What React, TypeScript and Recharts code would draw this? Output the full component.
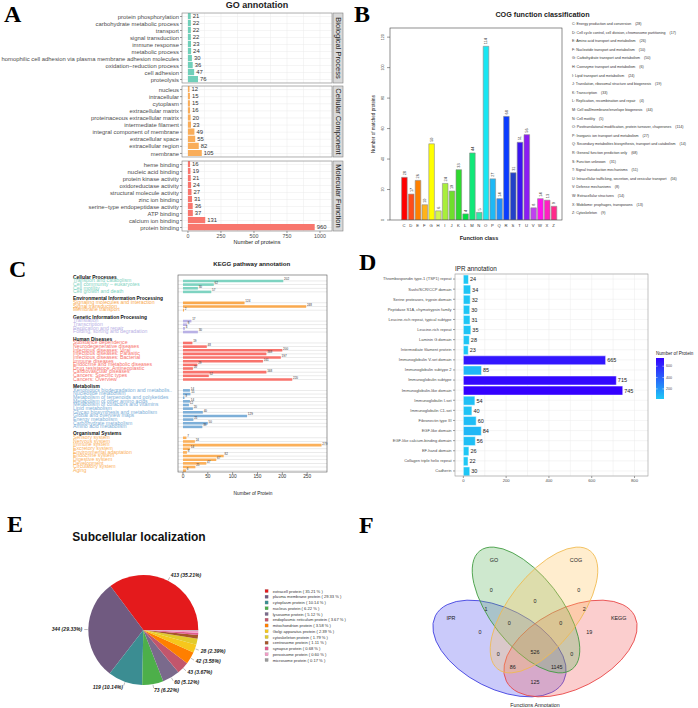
import React from 'react'
import {
  BarChart,
  Bar,
  XAxis,
  YAxis,
  CartesianGrid,
  LabelList,
  Cell,
  PieChart,
  Pie,
  ScatterChart,
  Scatter,
} from 'recharts'

const FONT = '"Liberation Sans", Arial, Helvetica, sans-serif'
const SERIF = '"Liberation Serif", "Times New Roman", serif'

// ---- A: GO annotation
const goBpTerms = [
  'protein phosphorylation',
  'carbohydrate metabolic process',
  'transport',
  'signal transduction',
  'immune response',
  'metabolic process',
  'homophilic cell adhesion via plasma membrane adhesion molecules',
  'oxidation\u2212reduction process',
  'cell adhesion',
  'proteolysis',
]
const goBpCounts = [21, 22, 22, 22, 23, 24, 30, 36, 47, 76]
const goCcTerms = [
  'nucleus',
  'intracellular',
  'cytoplasm',
  'extracellular matrix',
  'proteinaceous extracellular matrix',
  'intermediate filament',
  'integral component of membrane',
  'extracellular space',
  'extracellular region',
  'membrane',
]
const goCcCounts = [12, 15, 15, 16, 20, 23, 49, 55, 82, 105]
const goMfTerms = [
  'heme binding',
  'nucleic acid binding',
  'protein kinase activity',
  'oxidoreductase activity',
  'structural molecule activity',
  'zinc ion binding',
  'serine\u2212type endopeptidase activity',
  'ATP binding',
  'calcium ion binding',
  'protein binding',
]
const goMfCounts = [16, 19, 21, 24, 27, 31, 36, 37, 131, 960]
const goTicks = [0, 250, 500, 750, 1000]

// ---- B: COG
const cogCodes = ['C', 'D', 'E', 'F', 'G', 'H', 'I', 'J', 'K', 'L', 'M', 'N', 'O', 'P', 'Q', 'R', 'S', 'T', 'U', 'V', 'W', 'X', 'Z']
const cogNames = [
  'Energy production and conversion',
  'Cell cycle control, cell division, chromosome partitioning',
  'Amino acid transport and metabolism',
  'Nucleotide transport and metabolism',
  'Carbohydrate transport and metabolism',
  'Coenzyme transport and metabolism',
  'Lipid transport and metabolism',
  'Translation, ribosomal structure and biogenesis',
  'Transcription',
  'Replication, recombination and repair',
  'Cell wall/membrane/envelope biogenesis',
  'Cell motility',
  'Posttranslational modification, protein turnover, chaperones',
  'Inorganic ion transport and metabolism',
  'Secondary metabolites biosynthesis, transport and catabolism',
  'General function prediction only',
  'Function unknown',
  'Signal transduction mechanisms',
  'Intracellular trafficking, secretion, and vesicular transport',
  'Defense mechanisms',
  'Extracellular structures',
  'Mobilome: prophages, transposons',
  'Cytoskeleton',
]
const cogCounts = [28, 17, 26, 10, 50, 6, 24, 19, 33, 4, 44, 5, 114, 27, 14, 68, 31, 51, 56, 8, 14, 13, 9]
const cogTicks = [0, 20, 40, 60, 80, 100, 120]

// ---- C: KEGG
const keggGroupNames = [
  'Cellular Processes',
  'Environmental Information Processing',
  'Genetic Information Processing',
  'Human Diseases',
  'Metabolism',
  'Organismal Systems',
]
const keggCpTerms = ['Transport and catabolism', 'Cell community \u2013 eukaryotes', 'Cell motility', 'Cell growth and death']
const keggCpCounts = [202, 62, 30, 57]
const keggEipTerms = ['Signaling molecules and interaction', 'Signal transduction', 'Membrane transport']
const keggEipCounts = [124, 248, 2]
const keggGipTerms = ['Translation', 'Transcription', 'Replication and repair', 'Folding, sorting and degradation']
const keggGipCounts = [17, 8, 4, 30]
const keggHdTerms = [
  'Substance dependence',
  'Neurodegenerative diseases',
  'Infectious diseases: Viral',
  'Infectious diseases: Parasitic',
  'Infectious diseases: Bacterial',
  'Immune diseases',
  'Endocrine and metabolic diseases',
  'Drug resistance: Antineoplastic',
  'Cardiovascular diseases',
  'Cancers: Specific types',
  'Cancers: Overview',
]
const keggHdCounts = [19, 48, 200, 168, 197, 161, 29, 20, 168, 52, 220]
const keggMetTerms = [
  'Xenobiotics biodegradation and metabolis..',
  'Nucleotide metabolism',
  'Metabolism of terpenoids and polyketides',
  'Metabolism of other amino acids',
  'Metabolism of cofactors and vitamins',
  'Lipid metabolism',
  'Glycan biosynthesis and metabolism',
  'Global and overview maps',
  'Energy metabolism',
  'Carbohydrate metabolism',
  'Amino acid metabolism',
]
const keggMetCounts = [14, 15, 3, 14, 12, 20, 40, 129, 21, 50, 39]
const keggOsTerms = [
  'Sensory system',
  'Nervous system',
  'Immune system',
  'Excretory system',
  'Environmental adaptation',
  'Endocrine system',
  'Digestive system',
  'Development',
  'Circulatory system',
  'Aging',
]
const keggOsCounts = [7, 24, 279, 14, 8, 82, 67, 47, 25, 6]
const keggTicks = [0, 50, 100, 150, 200, 250]

// ---- D: IPR
const iprDomains = [
  'Thrombospondin type-1 (TSP1) repeat',
  'Sushi/SCR/CCP domain',
  'Serine proteases, trypsin domain',
  'Peptidase S1A, chymotrypsin family',
  'Leucine-rich repeat, typical subtype',
  'Leucine-rich repeat',
  'Laminin G domain',
  'Intermediate filament protein',
  'Immunoglobulin V-set domain',
  'Immunoglobulin subtype 2',
  'Immunoglobulin subtype',
  'Immunoglobulin-like domain',
  'Immunoglobulin I-set',
  'Immunoglobulin C1-set',
  'Fibronectin type III',
  'EGF-like domain',
  'EGF-like calcium-binding domain',
  'EF-hand domain',
  'Collagen triple helix repeat',
  'Cadherin',
]
const iprCounts = [24, 34, 32, 30, 31, 35, 28, 23, 665, 85, 715, 745, 54, 40, 60, 84, 56, 26, 22, 30]
const iprTicks = [0, 200, 400, 600, 800]
const iprLegendTicks = [200, 400, 600]

// ---- E: subcellular localization
const locNames = [
  'extracell protein',
  'plasma membrane protein',
  'cytoplasm protein',
  'nucleus protein',
  'lysosome protein',
  'endoplasmic reticulum protein',
  'mitochondrion protein',
  'Golgi apparatus protein',
  'cytoskeleton protein',
  'centrosome protein',
  'synapse protein',
  'peroxisome protein',
  'microsome protein',
]
const locCounts = [413, 344, 119, 73, 60, 43, 42, 28, 21, 13, 8, 7, 2]

// ---- F: Venn
const vennSetNames = ['IPR', 'KEGG', 'GO', 'COG']
const vennRegionNames = [
  'GO', 'COG', 'GO&COG', 'GO&IPR', 'COG&KEGG', 'IPR', 'KEGG', 'GO&COG&IPR',
  'GO&COG&KEGG', 'COG&IPR', 'GO&KEGG', 'ALL', 'COG&IPR&KEGG', 'GO&IPR&KEGG', 'IPR&KEGG',
]
const vennRegionCounts = [0, 0, 0, 1, 2, 0, 19, 0, 0, 0, 0, 526, 86, 1145, 125]

// ---------------------------------------------------------------- styles / layout
const goColors = ['#70CFB9', '#F9AD5A', '#F8766D']
const cogColors = [
  '#FF0000', '#FF4D1A', '#FF8000', '#FFB31A', '#FFFF00', '#D2F550', '#A8EE3A', '#6FDE2C',
  '#2FD92F', '#00E040', '#10E878', '#2EE8AA', '#19E6F2', '#1EB8F5', '#1E8CFF', '#0A3CFF',
  '#2340C8', '#3A14F0', '#8A1CF2', '#C040F0', '#FF10F0', '#FF20C0', '#FF2A8A',
]
const keggGroupColors = ['#7ED3C1', '#F9A94E', '#B9B1E5', '#F8736C', '#7DAFD8', '#FBB05A']
const locColors = [
  '#E41A1C', '#705A80', '#3B8D92', '#4DAF4A', '#7A6A8C', '#C2566C', '#FF7F00',
  '#F6C71C', '#E2CB2C', '#A65628', '#E05C8E', '#F29CC6', '#9A9A9A',
]
const vennStyle = [
  { fill: '#5050EE', stroke: '#3F3FE0' },
  { fill: '#F25C5C', stroke: '#E84646' },
  { fill: '#5DB35D', stroke: '#3E9A3E' },
  { fill: '#FFC55C', stroke: '#F0BA50' },
]
const vennEllipseLayout = [
  { x: 149.5, y: 138.5, rx: 72, ry: 40, rot: 27, lx: 101, ly: 107.7 },
  { x: 220.5, y: 138.5, rx: 72, ry: 40, rot: -27, lx: 268.7, ly: 107.7 },
  { x: 176, y: 100, rx: 75, ry: 35, rot: 52, lx: 144, ly: 50 },
  { x: 194, y: 100, rx: 75, ry: 35, rot: -52, lx: 226, ly: 50 },
]
const vennRegionLayout = [
  [141.3, 80], [228.7, 80], [185, 91], [136, 98.7], [234.3, 98.7], [130, 121.7], [239.3, 121.7],
  [159.3, 112.7], [210.7, 112.7], [148.3, 144], [221.7, 144], [185, 142], [162.7, 156.7],
  [206.7, 156.7], [185, 171.7],
]

const lin = (v: number, d0: number, d1: number, p0: number, p1: number) => p0 + ((v - d0) / (d1 - d0)) * (p1 - p0)

const catTick = (fontSize: number, fill: string) => (p: any) => (
  <text x={p.x} y={p.y} dy="0.35em" textAnchor="end" fontSize={fontSize} fill={fill} fontFamily={FONT}>
    {p.payload.value}
  </text>
)

// ---------------------------------------------------------------- A
const GO_DOMAIN: [number, number] = [-45, 1091]
const GO_LEFT = 182
const GO_RIGHT = 332
const goGridX = [0, 125, 250, 375, 500, 625, 750, 875, 1000].map((v) => lin(v, GO_DOMAIN[0], GO_DOMAIN[1], GO_LEFT, GO_RIGHT))
const goFacets = [
  { strip: 'Biological Process', terms: goBpTerms, counts: goBpCounts, top: 13, height: 70 },
  { strip: 'Cellular Component', terms: goCcTerms, counts: goCcCounts, top: 86, height: 71 },
  { strip: 'Molecular Function', terms: goMfTerms, counts: goMfCounts, top: 161, height: 70 },
]

function GoFacet({ terms, counts, color, top, height, showAxis }: any) {
  const data = terms.map((term: string, i: number) => ({ term, count: counts[i] }))
  const axisH = showAxis ? 14 : 0
  return (
    <div style={{ position: 'absolute', left: 0, top }}>
      <BarChart layout="vertical" width={350} height={height + axisH} data={data} margin={{ top: 0, right: 350 - GO_RIGHT, bottom: 0, left: 0 }}>
        <CartesianGrid stroke="#EBEBEB" strokeWidth={0.5} verticalPoints={goGridX} />
        <XAxis
          type="number"
          domain={GO_DOMAIN}
          allowDataOverflow
          ticks={goTicks}
          interval={0}
          hide={!showAxis}
          height={axisH}
          axisLine={false}
          tickSize={2}
          tickMargin={1}
          tickLine={{ stroke: '#333', strokeWidth: 0.5 }}
          tick={{ fontSize: 5.3, fill: '#4D4D4D' }}
        />
        <YAxis
          type="category"
          dataKey="term"
          width={GO_LEFT}
          interval={0}
          axisLine={false}
          tickSize={2}
          tickMargin={1}
          tickLine={{ stroke: '#333', strokeWidth: 0.5 }}
          tick={catTick(5.9, '#4D4D4D')}
        />
        <Bar dataKey="count" fill={color} barSize={6.2} isAnimationActive={false}>
          <LabelList dataKey="count" position="right" offset={2} fontSize={5.9} fill="#333" />
        </Bar>
      </BarChart>
    </div>
  )
}

// ---------------------------------------------------------------- B
const cogData = cogCodes.map((code, i) => ({ code, count: cogCounts[i] }))

const cogYTick = (p: any) => (
  <text x={p.x} y={p.y} transform={`rotate(-90 ${p.x} ${p.y})`} textAnchor="middle" fontSize={3.6} fill="#333" fontFamily={FONT}>
    {p.payload.value}
  </text>
)
const cogXTick = (p: any) => (
  <text x={p.x} y={p.y} dy="0.71em" textAnchor="middle" fontSize={4.2} fill="#333" fontFamily={FONT}>
    {p.payload.value}
  </text>
)
const cogValueLabel = (p: any) => {
  const cx = p.x + p.width / 2
  const y = p.y - 2
  return (
    <text x={cx} y={y} dy="0.35em" transform={`rotate(-90 ${cx} ${y})`} textAnchor="start" fontSize={3.8} fill="#333" fontFamily={FONT}>
      {p.value}
    </text>
  )
}

// ---------------------------------------------------------------- C
const keggTerms = [keggCpTerms, keggEipTerms, keggGipTerms, keggHdTerms, keggMetTerms, keggOsTerms]
const keggCounts = [keggCpCounts, keggEipCounts, keggGipCounts, keggHdCounts, keggMetCounts, keggOsCounts]
type KRow = { id: string; kind: string; label: string; count?: number; color: string }
const keggRows: KRow[] = []
keggGroupNames.forEach((g, gi) => {
  if (gi > 0) keggRows.push({ id: `gap${gi}`, kind: 'gap', label: '', color: 'none' })
  keggRows.push({ id: `hdr${gi}`, kind: 'header', label: g, color: '#111' })
  keggTerms[gi].forEach((t, j) =>
    keggRows.push({ id: `k${gi}_${j}`, kind: 'item', label: t, count: keggCounts[gi][j], color: keggGroupColors[gi] }),
  )
})
const keggRowById: Record<string, KRow> = Object.fromEntries(keggRows.map((r) => [r.id, r]))

const keggTick = (p: any) => {
  const row = keggRowById[p.payload.value]
  if (!row || row.kind === 'gap') return <g />
  const hdr = row.kind === 'header'
  return (
    <text x={73} y={p.y} dy="0.35em" textAnchor="start" fontSize={hdr ? 4.9 : 5.2} fontWeight={hdr ? 700 : 400} fill={row.color} fontFamily={FONT}>
      {row.label}
    </text>
  )
}
const keggTrack = (p: any) => {
  if (p.payload && p.payload.kind !== 'item') return <g />
  return <rect x={p.x} y={p.y + p.height / 2 - 0.35} width={p.width} height={0.7} fill="#E2E2E2" />
}
const keggValueLabel = (p: any) => {
  if (p.value == null) return null
  return (
    <text x={p.x + p.width + 0.8} y={p.y + p.height / 2 - 0.6} fontSize={3} fill="#333" fontFamily={FONT}>
      {p.value}
    </text>
  )
}

// ---------------------------------------------------------------- D
const IPR_DOMAIN: [number, number] = [-39, 863]
const IPR_LEFT = 105
const IPR_RIGHT = 298
const iprGridX = [0, 100, 200, 300, 400, 500, 600, 700, 800].map((v) => lin(v, IPR_DOMAIN[0], IPR_DOMAIN[1], IPR_LEFT, IPR_RIGHT))
const iprMin = Math.min(...iprCounts)
const iprMax = Math.max(...iprCounts)
const IPR_LOW = [30, 200, 245]
const IPR_HIGH = [52, 0, 255]
const iprColor = (v: number) => {
  const t = (v - iprMin) / (iprMax - iprMin)
  const c = IPR_LOW.map((l, k) => Math.round(l + (IPR_HIGH[k] - l) * t))
  return `rgb(${c.join(',')})`
}
const iprData = iprDomains.map((domain, i) => ({ domain, count: iprCounts[i] }))

// ---------------------------------------------------------------- E
const locTotal = locCounts.reduce((a, b) => a + b, 0)
const locPct = locCounts.map((c) => ((c / locTotal) * 100).toFixed(2))
const locData = locNames.map((name, i) => ({ name, count: locCounts[i] }))
const PIE_LABELLED = 8

const pieLabel = (p: any) => {
  if (p.index >= PIE_LABELLED) return <g />
  const rad = (-p.midAngle * Math.PI) / 180
  const c = Math.cos(rad)
  const s = Math.sin(rad)
  const r = p.outerRadius
  return (
    <g>
      <line x1={p.cx + (r + 0.5) * c} y1={p.cy + (r + 0.5) * s} x2={p.cx + (r + 4) * c} y2={p.cy + (r + 4) * s} stroke="#555" strokeWidth={0.4} />
      <text
        x={p.cx + (r + 6) * c}
        y={p.cy + (r + 6) * s}
        dy="0.35em"
        textAnchor={c >= 0 ? 'start' : 'end'}
        fontSize={5.1}
        fontStyle="italic"
        fontWeight={700}
        fill="#222"
        fontFamily={FONT}
      >
        {`${locCounts[p.index]} (${locPct[p.index]}%)`}
      </text>
    </g>
  )
}

// ---------------------------------------------------------------- F
const vennEllipses = vennSetNames.map((name, i) => ({ name, ...vennEllipseLayout[i], ...vennStyle[i] }))
const vennRegions = vennRegionNames.map((name, i) => ({ name, count: vennRegionCounts[i], x: vennRegionLayout[i][0], y: vennRegionLayout[i][1] }))
const vennLabels = vennEllipses.map((e) => ({ name: e.name, x: e.lx, y: e.ly }))

const ellipseShape = (p: any) => (
  <ellipse
    cx={p.cx}
    cy={p.cy}
    rx={p.payload.rx}
    ry={p.payload.ry}
    transform={`rotate(${p.payload.rot} ${p.cx} ${p.cy})`}
    fill={p.payload.fill}
    fillOpacity={0.3}
    stroke={p.payload.stroke}
    strokeWidth={0.8}
  />
)
const vennText = (key: string) => (p: any) => (
  <text x={p.cx} y={p.cy} dy="0.35em" textAnchor="middle" fontSize={5.4} fill="#222" fontFamily={FONT}>
    {p.payload[key]}
  </text>
)

// ---------------------------------------------------------------- overlay (frames, titles, legends)
function Overlay() {
  const t = (x: number, y: number, s: string, size: number, extra: any = {}) => (
    <text x={x} y={y} fontSize={size} dominantBaseline="central" textAnchor="middle" fill="#222" fontFamily={FONT} style={{ whiteSpace: 'pre' }} {...extra}>
      {s}
    </text>
  )
  const letter = (x: number, y: number, s: string) => (
    <text x={x} y={y} fontSize={24} fontWeight={700} fontFamily={SERIF} fill="#000">
      {s}
    </text>
  )
  const cbTop = 358
  const cbBottom = 399
  return (
    <svg width={698} height={708} style={{ position: 'absolute', left: 0, top: 0, pointerEvents: 'none' }}>
      <defs>
        <linearGradient id="iprGrad" x1="0" y1="1" x2="0" y2="0">
          <stop offset="0%" stopColor={iprColor(iprMin)} />
          <stop offset="100%" stopColor={iprColor(iprMax)} />
        </linearGradient>
        {goFacets.map((f, i) => (
          <clipPath key={i} id={`strip${i}`}>
            <rect x={333} y={f.top} width={10} height={f.height} />
          </clipPath>
        ))}
      </defs>

      {letter(4, 22, 'A')}
      {letter(354, 22, 'B')}
      {letter(9, 277, 'C')}
      {letter(359, 270, 'D')}
      {letter(7, 532, 'E')}
      {letter(359, 533, 'F')}

      {/* A */}
      {t(257, 5, 'GO annotation', 9, { fontWeight: 700 })}
      {goFacets.map((f, i) => (
        <g key={i}>
          <rect x={GO_LEFT} y={f.top} width={GO_RIGHT - GO_LEFT} height={f.height} fill="none" stroke="#7F7F7F" strokeWidth={0.6} />
          <rect x={333} y={f.top} width={10} height={f.height} fill="#D9D9D9" stroke="#7F7F7F" strokeWidth={0.6} />
          <g clipPath={`url(#strip${i})`}>
            {t(338, f.top + f.height / 2, f.strip, 7.5, { transform: `rotate(90 338 ${f.top + f.height / 2})`, fill: '#1A1A1A' })}
          </g>
        </g>
      ))}
      {t(257, 242, 'Number of proteins', 5.5)}

      {/* B */}
      {t(542.5, 14, 'COG function classification', 7.2, { fontWeight: 700 })}
      <rect x={390} y={28} width={172} height={192} fill="none" stroke="#444" strokeWidth={0.6} />
      {t(373, 124, 'Number of matched proteins', 4.6, { transform: 'rotate(-90 373 124)' })}
      {t(479, 238, 'Function class', 5.5, { fontWeight: 700 })}
      {cogCodes.map((code, i) =>
        <g key={code}>{t(572, 24 + i * 8.6, `${code}: ${cogNames[i]}    (${cogCounts[i]})`, 3.6, { textAnchor: 'start', fill: '#333' })}</g>,
      )}

      {/* C */}
      {t(251.7, 263, 'KEGG pathway annotation', 6.1, { fontWeight: 700 })}
      <rect x={178} y={275} width={149} height={197} fill="none" stroke="#555" strokeWidth={0.6} />
      {t(253, 493, 'Number of Protein', 4.8)}

      {/* D */}
      {t(455, 268, 'IPR annotation', 6.3, { textAnchor: 'start' })}
      <rect x={455} y={274} width={193} height={202} fill="none" stroke="#9A9A9A" strokeWidth={0.6} />
      {t(656, 353, 'Number of Protein', 4.6, { textAnchor: 'start' })}
      <rect x={656} y={cbTop} width={8} height={cbBottom - cbTop} fill="url(#iprGrad)" />
      {iprLegendTicks.map((v) => {
        const y = lin(v, iprMin, iprMax, cbBottom, cbTop)
        return (
          <g key={v}>
            <line x1={656} x2={657.6} y1={y} y2={y} stroke="#fff" strokeWidth={0.5} />
            <line x1={662.4} x2={664} y1={y} y2={y} stroke="#fff" strokeWidth={0.5} />
            {t(666, y, String(v), 3.6, { textAnchor: 'start', fill: '#4D4D4D' })}
          </g>
        )
      })}

      {/* E */}
      {t(139, 537, 'Subcellular localization', 12, { fontWeight: 700, fill: '#111' })}
      {locNames.map((n, i) => (
        <g key={n}>
          <rect x={265} y={591 + i * 5.75 - 1.6} width={3.2} height={3.2} fill={locColors[i]} stroke="#888" strokeWidth={0.2} />
          {t(272.7, 591 + i * 5.75, `${n} ( ${locPct[i]} % )`, 4.1, { textAnchor: 'start', fill: '#333' })}
        </g>
      ))}

      {/* F */}
      {t(535, 704.5, 'Functions Annotation', 5.3)}
    </svg>
  )
}

export default function App() {
  return (
    <div style={{ position: 'absolute', left: 0, top: 0, width: 698, height: 708, background: '#fff', fontFamily: FONT, overflow: 'hidden' }}>
      {goFacets.map((f, i) => (
        <GoFacet key={f.strip} terms={f.terms} counts={f.counts} color={goColors[i]} top={f.top} height={f.height} showAxis={i === 2} />
      ))}

      <div style={{ position: 'absolute', left: 350, top: 0 }}>
        <BarChart width={230} height={250} data={cogData} margin={{ top: 28, right: 18, bottom: 0, left: 0 }}>
          <XAxis dataKey="code" type="category" height={30} interval={0} tickLine={false} axisLine={false} tickSize={0} tickMargin={4} padding={{ left: 10.6, right: 5 }} tick={cogXTick} />
          <YAxis type="number" domain={[0, 126]} allowDataOverflow ticks={cogTicks} interval={0} width={40} axisLine={false} tickSize={3} tickMargin={3} tickLine={{ stroke: '#333', strokeWidth: 0.5 }} tick={cogYTick} />
          <Bar dataKey="count" barSize={5.6} stroke="#8C8C8C" strokeWidth={0.6} isAnimationActive={false}>
            {cogData.map((d, i) => (
              <Cell key={d.code} fill={cogColors[i]} />
            ))}
            <LabelList dataKey="count" content={cogValueLabel} />
          </Bar>
        </BarChart>
      </div>

      <div style={{ position: 'absolute', left: 0, top: 250 }}>
        <BarChart layout="vertical" width={340} height={250} data={keggRows} margin={{ top: 25, right: 13, bottom: 0, left: 0 }}>
          <XAxis type="number" domain={[-10, 290]} allowDataOverflow ticks={keggTicks} interval={0} height={28} axisLine={false} tickSize={2} tickMargin={1} tickLine={{ stroke: '#333', strokeWidth: 0.5 }} tick={{ fontSize: 4.8, fill: '#333' }} />
          <YAxis type="category" dataKey="id" width={178} interval={0} axisLine={false} tickLine={false} tick={keggTick} />
          <Bar dataKey="count" barSize={2.6} background={keggTrack} isAnimationActive={false}>
            {keggRows.map((r) => (
              <Cell key={r.id} fill={r.color} />
            ))}
            <LabelList dataKey="count" content={keggValueLabel} />
          </Bar>
        </BarChart>
      </div>

      <div style={{ position: 'absolute', left: 350, top: 250 }}>
        <BarChart layout="vertical" width={300} height={250} data={iprData} margin={{ top: 24, right: 300 - IPR_RIGHT, bottom: 0, left: 0 }}>
          <CartesianGrid stroke="#EBEBEB" strokeWidth={0.5} verticalPoints={iprGridX} />
          <XAxis type="number" domain={IPR_DOMAIN} allowDataOverflow ticks={iprTicks} interval={0} height={24} axisLine={false} tickSize={2} tickMargin={1} tickLine={{ stroke: '#333', strokeWidth: 0.5 }} tick={{ fontSize: 4.2, fill: '#4D4D4D' }} />
          <YAxis type="category" dataKey="domain" width={IPR_LEFT} interval={0} axisLine={false} tickSize={2} tickMargin={1.5} tickLine={{ stroke: '#333', strokeWidth: 0.5 }} tick={catTick(4, '#4D4D4D')} />
          <Bar dataKey="count" barSize={9} stroke="#fff" strokeWidth={0.5} isAnimationActive={false}>
            {iprData.map((d) => (
              <Cell key={d.domain} fill={iprColor(d.count)} />
            ))}
            <LabelList dataKey="count" position="right" offset={1.5} fontSize={5.5} fill="#1A1A1A" />
          </Bar>
        </BarChart>
      </div>

      <div style={{ position: 'absolute', left: 0, top: 510 }}>
        <PieChart width={350} height={198}>
          <Pie
            data={locData}
            dataKey="count"
            nameKey="name"
            cx={138.3}
            cy={115}
            outerRadius={55}
            startAngle={0}
            endAngle={360}
            stroke="none"
            labelLine={false}
            label={pieLabel}
            isAnimationActive={false}
          >
            {locData.map((d, i) => (
              <Cell key={d.name} fill={locColors[i]} />
            ))}
          </Pie>
        </PieChart>
      </div>

      <div style={{ position: 'absolute', left: 350, top: 510 }}>
        <ScatterChart width={348} height={198} margin={{ top: 0, right: 0, bottom: 0, left: 0 }}>
          <XAxis type="number" dataKey="x" domain={[0, 348]} allowDataOverflow hide />
          <YAxis type="number" dataKey="y" domain={[0, 198]} allowDataOverflow reversed hide />
          <Scatter data={vennEllipses} shape={ellipseShape} isAnimationActive={false} />
          <Scatter data={vennLabels} shape={vennText('name')} isAnimationActive={false} />
          <Scatter data={vennRegions} shape={vennText('count')} isAnimationActive={false} />
        </ScatterChart>
      </div>

      <Overlay />
    </div>
  )
}
